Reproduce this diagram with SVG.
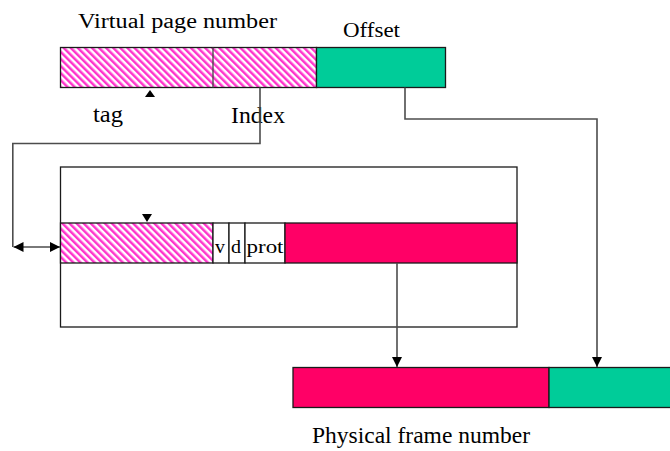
<svg xmlns="http://www.w3.org/2000/svg" width="670" height="451" viewBox="0 0 670 451">
  <style>
    .lbl { font-family: "Liberation Serif", "Times New Roman", serif; fill: #000; }
    .box { stroke: #1a1a1a; stroke-width: 1.3; }
    .sep { stroke: #444; stroke-width: 1.3; fill: none; }
    .wire { stroke: #4d4d4d; stroke-width: 1.6; fill: none; }
    .hatch { fill: url(#diag); }
    .green { fill: #00cc99; }
    .red { fill: #ff0066; }
    .white { fill: #fff; }
  </style>
  <defs>
    <!-- downward diagonal magenta hatch -->
    <pattern id="diag" patternUnits="userSpaceOnUse" width="5" height="5" patternTransform="rotate(-45)">
      <rect width="5" height="5" fill="#fff"/>
      <rect width="2.5" height="5" fill="#ff33cc"/>
    </pattern>
    <marker id="tip" viewBox="0 0 10 10" refX="10" refY="5" markerWidth="10" markerHeight="10" markerUnits="userSpaceOnUse" orient="auto-start-reverse">
      <path d="M0,0 L10,5 L0,10 Z" fill="#000"/>
    </marker>
  </defs>

  <!-- virtual address -->
  <g id="virtual-address">
    <text class="lbl" x="78" y="27.5" font-size="20" textLength="199" lengthAdjust="spacingAndGlyphs">Virtual page number</text>
    <text class="lbl" x="343" y="36.5" font-size="20" textLength="57" lengthAdjust="spacingAndGlyphs">Offset</text>
    <rect class="box hatch" x="60.5" y="47.5" width="256" height="40"/>
    <line class="sep" x1="213" y1="47.5" x2="213" y2="87.5"/>
    <rect class="box green" x="316.5" y="47.5" width="129" height="40"/>
    <path d="M150,90 L155,97 L145,97 Z" fill="#000"/>
    <text class="lbl" x="93" y="122" font-size="23" textLength="30" lengthAdjust="spacingAndGlyphs">tag</text>
    <text class="lbl" x="231" y="123" font-size="23" textLength="54" lengthAdjust="spacingAndGlyphs">Index</text>
  </g>

  <!-- TLB -->
  <g id="tlb">
    <rect class="box white" x="60.5" y="167" width="456.5" height="160"/>
    <rect class="box hatch" x="60.5" y="223" width="152.5" height="40"/>
    <rect class="box white" x="213" y="223" width="16" height="40"/>
    <rect class="box white" x="229" y="223" width="16" height="40"/>
    <rect class="box white" x="245" y="223" width="40" height="40"/>
    <rect class="box red" x="285" y="223" width="232" height="40"/>
    <path d="M147,222 L152,214 L142,214 Z" fill="#000"/>
    <text class="lbl" x="215" y="252.5" font-size="19" textLength="10" lengthAdjust="spacingAndGlyphs">v</text>
    <text class="lbl" x="231" y="252.5" font-size="19" textLength="10" lengthAdjust="spacingAndGlyphs">d</text>
    <text class="lbl" x="246.5" y="252.5" font-size="19" textLength="37" lengthAdjust="spacingAndGlyphs">prot</text>
  </g>

  <!-- physical address -->
  <g id="physical-address">
    <rect class="box red" x="293" y="367.5" width="256" height="40"/>
    <rect class="box green" x="549" y="367.5" width="125" height="40"/>
    <text class="lbl" x="312" y="443" font-size="23.5" textLength="218" lengthAdjust="spacingAndGlyphs">Physical frame number</text>
  </g>

  <!-- connectors -->
  <g id="connectors">
    <polyline class="wire" points="260,87.5 260,143.5 12.8,143.5 12.8,247"/>
    <line class="wire" x1="13.5" y1="247" x2="60" y2="247" stroke="#000" marker-start="url(#tip)" marker-end="url(#tip)"/>
    <polyline class="wire" points="405,87.5 405,119 597,119 597,367" marker-end="url(#tip)"/>
    <line class="wire" x1="397" y1="263" x2="397" y2="367" marker-end="url(#tip)"/>
  </g>
</svg>
